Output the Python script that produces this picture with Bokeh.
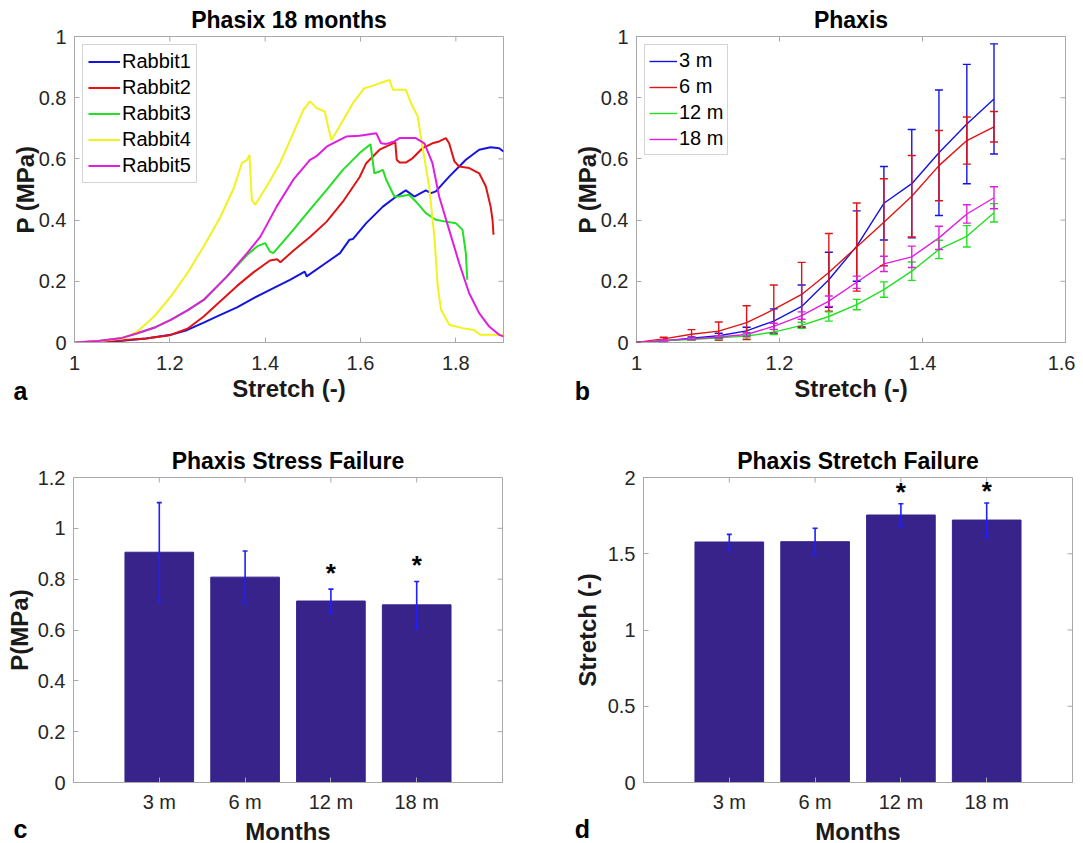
import math
from bokeh.plotting import figure
from bokeh.models import (ColumnDataSource, Whisker, TeeHead, Legend, LegendItem,
                          FixedTicker, PrintfTickFormatter, CustomJSTickFormatter, Range1d)
from bokeh.layouts import column, row
from bokeh.embed import file_html
from bokeh.resources import INLINE
from bokeh.core.properties import value

# ---------------- Panel a data: Phasix 18 months ----------------
r1_x = [1.0, 1.05, 1.1, 1.15, 1.202, 1.237, 1.271, 1.306, 1.341, 1.376, 1.41, 1.452, 1.483, 1.487,
        1.522, 1.557, 1.577, 1.584, 1.612, 1.647, 1.675, 1.695, 1.713, 1.737, 1.748, 1.758, 1.786,
        1.821, 1.849, 1.873, 1.891, 1.9]
r1_y = [0, 0.002, 0.006, 0.013, 0.025, 0.041, 0.065, 0.09, 0.115, 0.145, 0.172, 0.205, 0.232, 0.216,
        0.254, 0.292, 0.336, 0.338, 0.39, 0.444, 0.477, 0.497, 0.477, 0.497, 0.488, 0.494, 0.542,
        0.597, 0.63, 0.638, 0.635, 0.624]
r2_x = [1.0, 1.05, 1.1, 1.15, 1.2, 1.237, 1.271, 1.306, 1.341, 1.376, 1.41, 1.425, 1.432, 1.459,
        1.494, 1.529, 1.563, 1.598, 1.612, 1.64, 1.668, 1.673, 1.676, 1.682, 1.695, 1.709, 1.73,
        1.751, 1.765, 1.779, 1.786, 1.797, 1.807, 1.828, 1.849, 1.863, 1.873, 1.877, 1.879]
r2_y = [0, 0.003, 0.007, 0.013, 0.024, 0.045, 0.085, 0.135, 0.185, 0.23, 0.268, 0.272, 0.262, 0.3,
        0.345, 0.395, 0.46, 0.54, 0.586, 0.63, 0.651, 0.654, 0.597, 0.588, 0.588, 0.602, 0.635,
        0.651, 0.657, 0.668, 0.651, 0.592, 0.575, 0.57, 0.553, 0.51, 0.444, 0.401, 0.352]
r3_x = [1.0, 1.05, 1.1, 1.132, 1.17, 1.202, 1.237, 1.271, 1.32, 1.362, 1.383, 1.4, 1.41, 1.417,
        1.459, 1.494, 1.529, 1.563, 1.598, 1.621, 1.629, 1.64, 1.647, 1.654, 1.671, 1.682, 1.702,
        1.716, 1.737, 1.758, 1.779, 1.8, 1.814, 1.821, 1.824]
r3_y = [0, 0.005, 0.015, 0.03, 0.05, 0.074, 0.105, 0.139, 0.216, 0.286, 0.314, 0.325, 0.297, 0.292,
        0.368, 0.434, 0.499, 0.564, 0.619, 0.648, 0.553, 0.559, 0.564, 0.532, 0.477, 0.477, 0.483,
        0.461, 0.423, 0.401, 0.395, 0.39, 0.368, 0.292, 0.205]
r4_x = [1.0, 1.05, 1.104, 1.132, 1.167, 1.202, 1.237, 1.271, 1.306, 1.334, 1.351, 1.362, 1.367,
        1.372, 1.379, 1.403, 1.431, 1.459, 1.48, 1.494, 1.508, 1.525, 1.532, 1.539, 1.556, 1.584,
        1.608, 1.622, 1.64, 1.661, 1.668, 1.695, 1.706, 1.72, 1.73, 1.744, 1.755, 1.762, 1.769,
        1.786, 1.814, 1.838, 1.852, 1.891, 1.9]
r4_y = [0, 0.004, 0.014, 0.036, 0.085, 0.15, 0.227, 0.314, 0.41, 0.504, 0.586, 0.597, 0.613,
        0.466, 0.45, 0.51, 0.586, 0.684, 0.76, 0.788, 0.766, 0.755, 0.706, 0.662, 0.706, 0.782,
        0.831, 0.837, 0.847, 0.858, 0.826, 0.826, 0.782, 0.739, 0.64, 0.51, 0.346, 0.183, 0.107,
        0.058, 0.047, 0.041, 0.025, 0.025, 0.025]
r5_x = [1.0, 1.05, 1.1, 1.132, 1.17, 1.202, 1.237, 1.271, 1.32, 1.362, 1.39, 1.424, 1.459, 1.494,
        1.507, 1.529, 1.542, 1.57, 1.598, 1.633, 1.643, 1.654, 1.671, 1.682, 1.716, 1.734, 1.751,
        1.765, 1.786, 1.807, 1.828, 1.849, 1.87, 1.891, 1.9]
r5_y = [0, 0.005, 0.015, 0.03, 0.05, 0.074, 0.105, 0.139, 0.216, 0.292, 0.346, 0.444, 0.532, 0.597,
        0.608, 0.64, 0.651, 0.673, 0.676, 0.684, 0.651, 0.649, 0.657, 0.668, 0.668, 0.651, 0.586,
        0.477, 0.368, 0.259, 0.161, 0.096, 0.052, 0.025, 0.02]
rabbit_names = ["Rabbit1", "Rabbit2", "Rabbit3", "Rabbit4", "Rabbit5"]

# ---------------- Panel b data: Phaxis mean +/- sd ----------------
b_x = [1.0, 1.038, 1.077, 1.115, 1.154, 1.192, 1.231, 1.269, 1.308, 1.346, 1.385, 1.423, 1.462, 1.5]
m3 = [0, 0.005, 0.014, 0.022, 0.038, 0.07, 0.118, 0.205, 0.315, 0.455, 0.519, 0.62, 0.714, 0.796]
m3_err = [0, 0.002, 0.004, 0.008, 0.012, 0.04, 0.07, 0.09, 0.115, 0.12, 0.177, 0.205, 0.195, 0.18]
m6 = [0, 0.012, 0.027, 0.037, 0.065, 0.108, 0.157, 0.229, 0.312, 0.393, 0.478, 0.578, 0.66, 0.705]
m6_err = [0, 0.005, 0.015, 0.03, 0.055, 0.08, 0.105, 0.127, 0.144, 0.142, 0.133, 0.115, 0.077, 0.05]
m12 = [0, 0.006, 0.01, 0.015, 0.021, 0.034, 0.056, 0.085, 0.124, 0.173, 0.233, 0.304, 0.347, 0.424]
m12_err = [0, 0.002, 0.003, 0.005, 0.006, 0.008, 0.01, 0.015, 0.017, 0.025, 0.03, 0.03, 0.035, 0.03]
m18 = [0, 0.007, 0.012, 0.018, 0.026, 0.053, 0.088, 0.135, 0.197, 0.257, 0.28, 0.342, 0.42, 0.473]
m18_err = [0, 0.002, 0.003, 0.004, 0.006, 0.01, 0.012, 0.017, 0.02, 0.025, 0.035, 0.038, 0.03, 0.036]
group_names = ["3 m", "6 m", "12 m", "18 m"]

# ---------------- Panels c, d data ----------------
months = ["3 m", "6 m", "12 m", "18 m"]
stress = [0.906, 0.808, 0.714, 0.699]
stress_err = [0.195, 0.103, 0.047, 0.092]
stretch = [1.577, 1.579, 1.754, 1.721]
stretch_err = [0.05, 0.088, 0.074, 0.112]
significant = [False, False, True, True]

panel_letters = ["a", "b", "c", "d"]

# ---------------- styling ----------------
FONT = "Liberation Sans"
AX = "#a9a9a9"
TICKTXT = "#262626"
BLUE, RED, GREEN, YELLOW, MAGENTA = "#1414e0", "#e01414", "#22e022", "#f2f21e", "#e01ee0"
BAR = "#37238a"


def make_fig(xr, yr, xticks, yticks, title, xlabel, ylabel, mbl, mbr, mbt, mbb, fh,
             tick_so_x, lab_so_x, lab_so_y, xfmt=None):
    p = figure(x_range=xr, y_range=yr, frame_width=429, frame_height=fh,
               min_border_left=mbl, min_border_right=mbr, min_border_top=mbt,
               min_border_bottom=mbb, output_backend="svg", toolbar_location=None,
               title=title)
    p.grid.visible = False
    p.outline_line_color = AX
    p.outline_line_width = 1
    p.title.text_font = FONT
    p.title.text_font_size = "23px"
    p.title.text_font_style = "bold"
    p.title.align = "center"
    p.title.text_color = "black"
    p.title.standoff = 7
    p.xaxis.ticker = FixedTicker(ticks=xticks)
    p.yaxis.ticker = FixedTicker(ticks=yticks)
    p.xaxis.formatter = xfmt if xfmt is not None else PrintfTickFormatter(format="%g")
    p.yaxis.formatter = PrintfTickFormatter(format="%g")
    p.xaxis.axis_label = xlabel
    p.yaxis.axis_label = ylabel
    p.xaxis.major_label_standoff = tick_so_x
    p.yaxis.major_label_standoff = 8
    p.xaxis.axis_label_standoff = lab_so_x
    p.yaxis.axis_label_standoff = lab_so_y
    for ax in (p.xaxis[0], p.yaxis[0]):
        ax.axis_line_color = AX
        ax.major_tick_line_color = AX
        ax.major_tick_in = 5
        ax.major_tick_out = 0
        ax.minor_tick_line_color = None
        ax.major_label_text_font = FONT
        ax.major_label_text_font_size = "20px"
        ax.major_label_text_color = TICKTXT
        ax.axis_label_text_font = FONT
        ax.axis_label_text_font_size = "24px"
        ax.axis_label_text_font_style = "bold"
        ax.axis_label_text_color = "#1a1a1a"
    # inward ticks on the top and right edges of the box (MATLAB "box on")
    p.ray(x=xticks, y=[yr.end] * len(xticks), length=5, angle=-math.pi / 2,
          length_units="screen", line_color=AX, line_width=1)
    p.ray(x=[xr.end] * len(yticks), y=yticks, length=5, angle=math.pi,
          length_units="screen", line_color=AX, line_width=1)
    return p


# ---------------- Panel a ----------------
pa = make_fig(Range1d(1, 1.9), Range1d(0, 1), [1, 1.2, 1.4, 1.6, 1.8],
              [0, 0.2, 0.4, 0.6, 0.8, 1], "Phasix 18 months", "Stretch (-)", "P (MPa)",
              74, 67, 36, 85, 306, 13, 2, -3)
items = []
for xs, ys, c, n in zip([r1_x, r2_x, r3_x, r4_x, r5_x], [r1_y, r2_y, r3_y, r4_y, r5_y],
                        [BLUE, RED, GREEN, YELLOW, MAGENTA], rabbit_names):
    r = pa.line(xs, ys, line_color=c, line_width=2)
    items.append(LegendItem(label=n, renderers=[r]))
leg_a = Legend(items=items, location="top_left", margin=8, padding=5, spacing=3,
               glyph_width=32, glyph_height=21, label_height=21, label_standoff=2,
               label_text_font=FONT, label_text_font_size="20px", label_text_color="black",
               border_line_color=AX, background_fill_alpha=1.0)
pa.add_layout(leg_a)

# ---------------- Panel b ----------------
pb = make_fig(Range1d(1, 1.6), Range1d(0, 1), [1, 1.2, 1.4, 1.6],
              [0, 0.2, 0.4, 0.6, 0.8, 1], "Phaxis", "Stretch (-)", "P (MPa)",
              66, 10, 36, 85, 306, 13, 2, -3)
items = []
for ys, es, c, n in zip([m3, m6, m12, m18], [m3_err, m6_err, m12_err, m18_err],
                        [BLUE, RED, GREEN, MAGENTA], group_names):
    src = ColumnDataSource(dict(x=b_x, y=ys,
                                lo=[a - b for a, b in zip(ys, es)],
                                hi=[a + b for a, b in zip(ys, es)]))
    r = pb.line("x", "y", source=src, line_color=c, line_width=1.4)
    w = Whisker(source=src, base="x", lower="lo", upper="hi", line_color=c, line_width=1.4,
                upper_head=TeeHead(size=8, line_color=c, line_width=1.4),
                lower_head=TeeHead(size=8, line_color=c, line_width=1.4))
    w.level = "annotation"
    pb.add_layout(w)
    items.append(LegendItem(label=n, renderers=[r]))
leg_b = Legend(items=items, location="top_left", margin=8, padding=4, spacing=3,
               glyph_width=28, glyph_height=20, label_height=20, label_standoff=2,
               label_text_font=FONT, label_text_font_size="20px", label_text_color="black",
               border_line_color=AX, background_fill_alpha=1.0)
pb.add_layout(leg_b)

# ---------------- Panels c and d ----------------
idx = [i + 1 for i in range(len(months))]


def bar_panel(vals, errs, ylim, yticks, title, ylabel, mbl, mbr, star_off, lab_so_y):
    p = make_fig(Range1d(0, 5), Range1d(*ylim), idx, yticks, title, "Months", ylabel,
                 mbl, mbr, 50, 60, 305, 8, 2, lab_so_y,
                 xfmt=CustomJSTickFormatter(args=dict(labels=months),
                                            code="return labels[Math.round(tick) - 1] || '';"))
    src = ColumnDataSource(dict(x=idx, top=vals,
                                lo=[a - b for a, b in zip(vals, errs)],
                                hi=[a + b for a, b in zip(vals, errs)]))
    p.vbar(x="x", top="top", width=0.8, source=src, fill_color=BAR, line_color=BAR)
    w = Whisker(source=src, base="x", lower="lo", upper="hi", line_color="#1f1fff",
                line_width=1.6,
                upper_head=TeeHead(size=5, line_color="#1f1fff", line_width=1.6),
                lower_head=TeeHead(size=5, line_color="#1f1fff", line_width=1.6))
    w.level = "annotation"
    p.add_layout(w)
    sx = [i for i, s in zip(idx, significant) if s]
    sy = [v + e + star_off for v, e, s in zip(vals, errs, significant) if s]
    p.text(x=sx, y=sy, text=["*"] * len(sx), text_font=value(FONT), text_font_size="26px",
           text_font_style="bold", text_color="black", text_align="center",
           text_baseline="middle")
    return p


pc = bar_panel(stress, stress_err, (0, 1.2), [0, 0.2, 0.4, 0.6, 0.8, 1, 1.2],
               "Phaxis Stress Failure", "P(MPa)", 73, 68, 0.065, 2)
pd_ = bar_panel(stretch, stretch_err, (0, 2), [0, 0.5, 1, 1.5, 2],
                "Phaxis Stretch Failure", "Stretch (-)", 67, 9, 0.08, 4)

# ---------------- transparent overlay carrying the panel letters ----------------
W, H = 1075, 842
ov = figure(x_range=Range1d(0, W), y_range=Range1d(H, 0), frame_width=W, frame_height=H,
            min_border=0, x_axis_type=None, y_axis_type=None, output_backend="svg",
            toolbar_location=None)
ov.grid.visible = False
ov.outline_line_color = None
ov.background_fill_color = None
ov.border_fill_color = None
ov.text(x=[20, 582, 20, 582], y=[390, 390, 828, 828], text=panel_letters,
        text_font=value(FONT), text_font_size="25px", text_font_style="bold",
        text_color="black", text_align="center", text_baseline="middle")
ov.styles = {"position": "absolute", "left": "0px", "top": "0px", "pointer-events": "none"}

layout = column(row(pa, pb, spacing=0), row(pc, pd_, spacing=0), ov, spacing=0)
layout.styles = {"position": "relative"}
open("out.html", "w").write(file_html(layout, INLINE))
